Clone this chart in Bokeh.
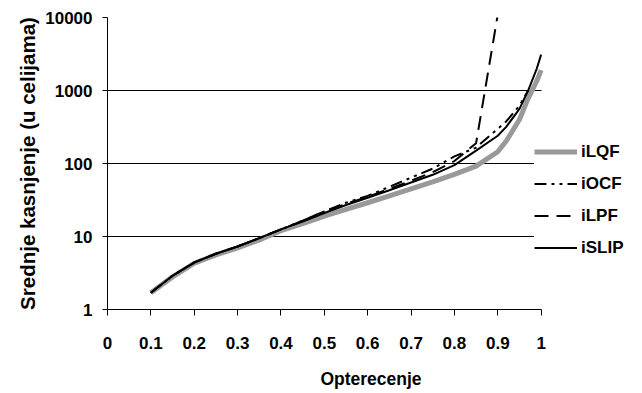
from bokeh.plotting import figure
from bokeh.models import FixedTicker, Legend, LegendItem, Grid, PrintfTickFormatter
from bokeh.embed import file_html
from bokeh.resources import INLINE

# ---- data ----
load = [0.1, 0.15, 0.2, 0.25, 0.3, 0.35, 0.4, 0.45, 0.5, 0.55, 0.6, 0.65, 0.7,
        0.75, 0.8, 0.85, 0.9, 0.92, 0.95, 0.97, 0.99, 1.0]
ilqf = [1.7, 2.8, 4.3, 5.6, 7.0, 9.0, 12.0, 15.0, 19.0, 23.5, 29, 36, 45,
        56, 71, 92, 145, 205, 400, 780, 1350, 1900]
islip = [1.7, 2.9, 4.4, 5.8, 7.3, 9.5, 12.5, 16, 21, 27, 34, 43, 55,
         70, 95, 150, 240, 320, 560, 1000, 2000, 3100]
iocf_load = [0.1, 0.15, 0.2, 0.25, 0.3, 0.35, 0.4, 0.45, 0.5, 0.55, 0.6, 0.65,
             0.7, 0.75, 0.8, 0.85, 0.9, 0.92, 0.95, 0.97]
iocf = [1.7, 2.9, 4.4, 5.8, 7.3, 9.5, 12.5, 16.5, 22, 29, 36, 48,
        64, 85, 125, 165, 300, 380, 620, 1000]
ilpf_load = [0.1, 0.15, 0.2, 0.25, 0.3, 0.35, 0.4, 0.45, 0.5, 0.55, 0.6, 0.65,
             0.7, 0.75, 0.8, 0.85, 0.9]
ilpf = [1.7, 2.9, 4.4, 5.8, 7.3, 9.5, 12.5, 16.5, 22, 28, 35, 45,
        58, 76, 108, 190, 11000]

x_ticks = [0, 0.1, 0.2, 0.3, 0.4, 0.5, 0.6, 0.7, 0.8, 0.9, 1.0]
x_tick_labels = ["0", "0.1", "0.2", "0.3", "0.4", "0.5", "0.6", "0.7", "0.8", "0.9", "1"]
y_ticks = [1, 10, 100, 1000, 10000]

FONT = "Liberation Sans"
X_END = 1.2153  # extra room on the right for the legend (axis bounded to 0..1)

p = figure(width=634, height=393, x_range=(0, X_END), y_range=(1, 10000),
           y_axis_type="log", output_backend="svg", toolbar_location=None,
           min_border_left=107, min_border_right=0, min_border_top=17,
           min_border_bottom=84)
p.outline_line_color = None
p.background_fill_color = "white"

# grid
p.xgrid.visible = False
p.ygrid.visible = False
has_cb = "cross_bounds" in Grid.properties()
g_black = Grid(dimension=1, ticker=FixedTicker(ticks=[10, 100, 1000]),
               grid_line_color="black", grid_line_width=1)
g_gray = Grid(dimension=1, ticker=FixedTicker(ticks=[10000]),
              grid_line_color="#c8c8c8", grid_line_width=1)
if has_cb:
    g_black.cross_bounds = (0, 1)
    g_gray.cross_bounds = (0, 1)
p.add_layout(g_black)
p.add_layout(g_gray)

# lines
r_lqf = p.line(load, ilqf, line_color="#999999", line_width=5)
r_ocf = p.line(iocf_load, iocf, line_color="black", line_width=2, line_dash="12 5 3 5 3 5")
r_lpf = p.line(ilpf_load, ilpf, line_color="black", line_width=2, line_dash="14 8")
r_slip = p.line(load, islip, line_color="black", line_width=2)

# axes
xa = p.xaxis[0]
xa.ticker = FixedTicker(ticks=x_ticks)
xa.bounds = (0, 1)
xa.major_label_overrides = {t: l for t, l in zip(x_ticks, x_tick_labels)}
xa.axis_label = "Opterecenje"
ya = p.yaxis[0]
ya.ticker = FixedTicker(ticks=y_ticks)
ya.formatter = PrintfTickFormatter(format="%d")
ya.axis_label = "Srednje kasnjenje (u celijama)"

for ax in (xa, ya):
    ax.axis_line_color = "black"
    ax.axis_line_width = 1
    ax.major_tick_line_color = "black"
    ax.major_tick_in = 0
    ax.minor_tick_line_color = None
    ax.major_label_text_font = FONT
    ax.major_label_text_font_style = "bold"
    ax.major_label_text_font_size = "17px"
    ax.major_label_text_color = "black"
    ax.axis_label_text_font = FONT
    ax.axis_label_text_font_style = "bold"
    ax.axis_label_text_color = "black"

xa.axis_label_text_font_size = "17.5px"
ya.axis_label_text_font_size = "20.5px"
xa.major_tick_out = 6
xa.major_label_standoff = 21
xa.axis_label_standoff = 17
ya.major_tick_out = 5
ya.major_label_standoff = 10
ya.axis_label_standoff = 3

legend = Legend(items=[LegendItem(label="iLQF", renderers=[r_lqf]),
                       LegendItem(label="iOCF", renderers=[r_ocf]),
                       LegendItem(label="iLPF", renderers=[r_lpf]),
                       LegendItem(label="iSLIP", renderers=[r_slip])],
                location=(427, 46), padding=7, margin=0, spacing=1,
                glyph_width=43, glyph_height=31, label_standoff=4,
                label_height=31,
                border_line_color=None, background_fill_color="white",
                background_fill_alpha=1.0,
                label_text_font=FONT, label_text_font_style="bold",
                label_text_font_size="17px", label_text_color="black")
p.add_layout(legend, "center")

open("out.html", "w").write(file_html(p, INLINE))
